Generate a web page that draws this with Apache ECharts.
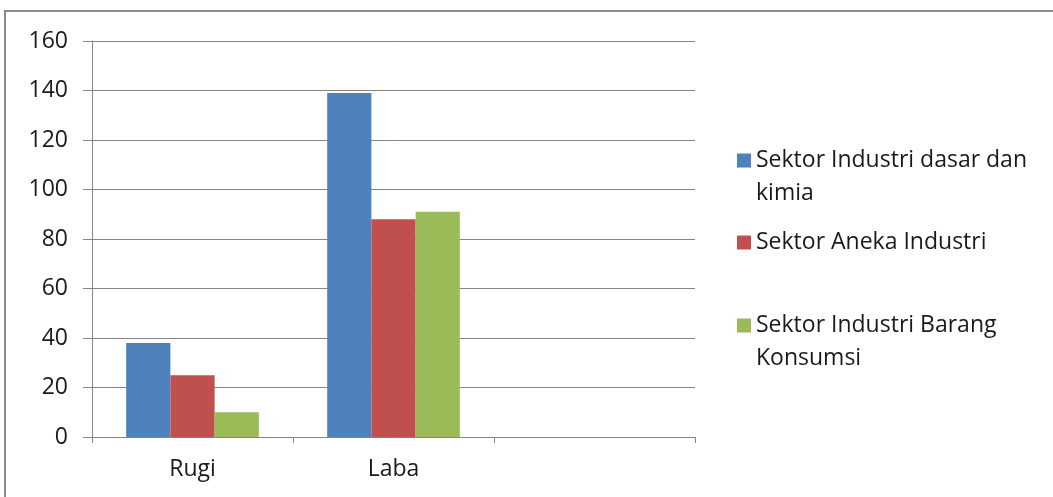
<!DOCTYPE html>
<html>
<head>
<meta charset="utf-8">
<script src="https://cdn.jsdelivr.net/npm/echarts@6/dist/echarts.min.js"></script>
<style>
  html, body { margin: 0; padding: 0; background: #fff; }
  #main { width: 1053px; height: 497px; }
</style>
</head>
<body>
<div id="main"></div>
<script>
// data
var categories = ['Rugi', 'Laba', ''];
var seriesNames = [
  'Sektor Industri dasar dan kimia',
  'Sektor Aneka Industri',
  'Sektor Industri Barang Konsumsi'
];
var dasarKimia = [38, 139, null];
var anekaIndustri = [25, 88, null];
var barangKonsumsi = [10, 91, null];
var colors = ['#4F81BD', '#C0504D', '#9BBB59'];

var font = '"Open Sans", sans-serif';

var myChart = echarts.init(document.getElementById('main'));

// legend labels wrap like the original; a blank first line keeps the
// square beside the first line of text
var legendLabel = {
  'Sektor Industri dasar dan kimia': '\nSektor Industri dasar dan\nkimia',
  'Sektor Industri Barang Konsumsi': '\nSektor Industri Barang\nKonsumsi'
};
function makeLegend(name, top) {
  return {
    data: [name],
    left: 737,
    top: top,
    orient: 'vertical',
    icon: 'rect',
    itemWidth: 14,
    itemHeight: 14,
    itemGap: 0,
    padding: 0,
    selectedMode: false,
    formatter: function (n) { return legendLabel[n] || n; },
    textStyle: {
      fontFamily: font,
      fontSize: 23,
      color: '#1a1a1a',
      lineHeight: 33
    }
  };
}

var option = {
  animation: false,
  backgroundColor: '#fff',
  color: colors,
  graphic: [{
    type: 'rect',
    shape: { x: 5, y: 11, width: 1100, height: 520 },
    style: { fill: 'none', stroke: '#8a8a8a', lineWidth: 2 },
    silent: true
  }],
  legend: [
    makeLegend(seriesNames[0], 111),
    makeLegend(seriesNames[1], 226),
    makeLegend(seriesNames[2], 276)
  ],
  grid: {
    left: 92,
    right: 358,
    top: 41,
    bottom: 60
  },
  xAxis: {
    type: 'category',
    data: categories,
    axisLine: { lineStyle: { color: '#868686', width: 1 } },
    axisTick: { show: true, length: 6, alignWithLabel: false, lineStyle: { color: '#868686' } },
    axisLabel: { fontFamily: font, fontSize: 23, color: '#1a1a1a', margin: 21 }
  },
  yAxis: {
    type: 'value',
    min: 0,
    max: 160,
    interval: 20,
    axisLine: { show: true, lineStyle: { color: '#868686', width: 1 } },
    axisTick: { show: true, length: 9, lineStyle: { color: '#868686' } },
    axisLabel: { fontFamily: font, fontSize: 23, color: '#1a1a1a', margin: 24 },
    splitLine: { lineStyle: { color: '#868686', width: 1 } }
  },
  series: [
    { name: seriesNames[0], type: 'bar', data: dasarKimia, barGap: '0%', barCategoryGap: '34%' },
    { name: seriesNames[1], type: 'bar', data: anekaIndustri, barGap: '0%', barCategoryGap: '34%' },
    { name: seriesNames[2], type: 'bar', data: barangKonsumsi, barGap: '0%', barCategoryGap: '34%' }
  ]
};

myChart.setOption(option);
</script>
</body>
</html>
